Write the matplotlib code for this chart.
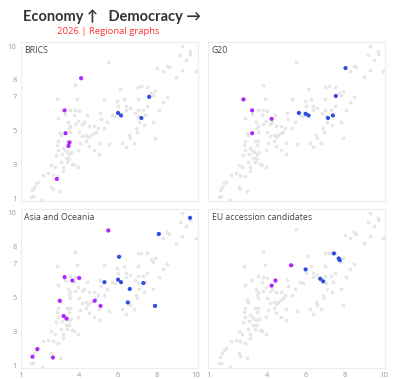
import matplotlib
matplotlib.use("Agg")
import matplotlib.pyplot as plt
import numpy as np

# Background: all countries (democracy score, economy score)
all_x = [9.3, 9.7, 9.7, 9.2, 9.5, 10.0, 9.3, 9.0, 8.0, 8.3, 8.5, 8.6, 5.5, 3.8, 2.85, 3.9,
         6.1, 7.0, 7.2, 7.5, 7.7, 7.9, 7.8, 8.5, 8.3, 8.1, 7.5, 7.4, 7.8, 7.9, 7.0, 7.0,
         7.3, 6.85, 7.05, 7.1, 7.35, 6.9, 6.95, 6.55, 6.6, 6.8, 6.4, 6.2, 6.3, 5.95, 6.0,
         6.4, 6.6, 6.4, 5.3, 5.7, 5.85, 5.05, 5.1, 5.45, 5.3, 5.55, 5.0, 5.0, 4.75, 4.5,
         4.35, 4.35, 4.5, 4.75, 4.85, 4.95, 4.75, 4.6, 4.4, 4.25, 4.15, 3.95, 3.75, 4.0,
         3.8, 3.55, 3.25, 3.55, 3.8, 3.45, 3.5, 3.55, 4.0, 4.15, 4.45, 4.05, 3.95, 3.6,
         3.5, 3.35, 3.25, 3.15, 3.55, 3.4, 3.5, 3.05, 2.9, 3.0, 2.85, 2.9, 3.1, 3.3, 3.45,
         3.5, 3.4, 3.65, 3.75, 3.95, 3.05, 3.15, 3.15, 2.75, 2.8, 2.9, 2.55, 2.4, 2.15,
         2.65, 2.9, 2.55, 2.65, 3.0, 1.9, 1.8, 1.7, 1.6, 1.65, 1.55, 2.1]
all_y = [10.0, 9.7, 9.55, 9.45, 9.2, 8.5, 8.6, 8.2, 8.7, 8.5, 8.85, 8.75, 9.05, 7.7, 6.85, 6.9,
         7.45, 7.6, 7.65, 7.6, 7.25, 7.35, 7.1, 7.0, 6.7, 6.2, 6.45, 5.9, 5.5, 4.55, 6.85, 6.25,
         6.25, 6.05, 5.85, 5.5, 5.35, 5.15, 4.95, 4.75, 4.55, 4.3, 4.05, 4.3, 6.85, 6.75, 6.45,
         6.45, 6.35, 6.2, 6.9, 5.9, 5.85, 6.05, 5.7, 5.5, 5.15, 4.2, 4.3, 3.65, 3.85, 4.1,
         4.4, 4.75, 5.3, 5.3, 4.95, 5.15, 4.85, 4.75, 5.9, 5.5, 5.4, 5.6, 5.9, 6.15,
         6.2, 6.25, 6.0, 5.3, 5.4, 5.5, 5.15, 4.95, 4.95, 4.7, 4.6, 4.25, 3.85, 3.75,
         3.65, 3.75, 3.85, 3.95, 4.4, 4.4, 4.15, 4.75, 4.4, 4.85, 4.15, 3.85, 3.6, 3.4, 3.4,
         3.35, 3.15, 3.05, 3.0, 2.85, 3.15, 2.85, 2.6, 2.85, 3.55, 5.75, 3.0, 2.5, 2.4,
         2.4, 2.3, 1.7, 1.55, 1.45, 2.0, 1.9, 1.7, 1.5, 1.15, 1.1, 0.9]

regions = ["BRICS", "G20", "Asia and Oceania", "EU accession candidates"]

# Highlighted members; group "a" = purple, "b" = blue
brics_x = [4.1, 3.25, 3.3, 3.5, 3.45, 2.85, 6.0, 6.15, 7.2, 7.6]
brics_y = [8.1, 6.2, 4.85, 4.3, 4.1, 2.15, 6.05, 5.9, 5.75, 7.0]
brics_g = ["a", "a", "a", "a", "a", "a", "b", "b", "b", "b"]

g20_x = [2.8, 3.25, 4.25, 3.25, 8.05, 7.55, 5.65, 6.0, 6.15, 7.15, 7.4]
g20_y = [6.85, 6.2, 5.7, 4.85, 8.7, 7.05, 6.05, 6.0, 5.9, 5.75, 5.9]
g20_g = ["a", "a", "a", "a", "b", "b", "b", "b", "b", "b", "b"]

asia_x = [5.5, 3.25, 3.65, 4.0, 3.0, 4.8, 5.1, 3.2, 3.35, 1.85, 1.6, 2.65,
          9.7, 8.1, 6.05, 5.3, 6.0, 6.15, 6.6, 7.3, 6.5, 7.9]
asia_y = [8.95, 6.2, 6.0, 6.15, 4.8, 4.8, 4.5, 3.9, 3.75, 1.95, 1.5, 1.45,
          9.7, 8.75, 7.4, 5.9, 6.05, 5.9, 5.5, 5.85, 4.7, 4.5]
asia_g = ["a"] * 12 + ["b"] * 10

eu_x = [5.25, 4.45, 4.25, 7.45, 7.7, 7.75, 6.0, 6.75, 6.9]
eu_y = [6.9, 6.0, 5.7, 7.6, 7.3, 7.2, 6.65, 6.1, 5.95]
eu_g = ["a", "a", "a", "b", "b", "b", "b", "b", "b"]

y_ticks = [1, 3, 5, 7, 8, 10]
x_ticks = [1, 4, 6, 8, 10]

groups = [(brics_x, brics_y, brics_g), (g20_x, g20_y, g20_g),
          (asia_x, asia_y, asia_g), (eu_x, eu_y, eu_g)]
colors = {"a": "#b026ff", "b": "#2f4de0"}

plt.rcParams["font.family"] = ["Open Sans", "DejaVu Sans"]
fig = plt.figure(figsize=(4.0, 3.79), dpi=100)

W, H = 0.4425, 0.42
pos = [(0.052, 0.4697), (0.521, 0.4697), (0.052, 0.0298), (0.521, 0.0298)]

for i, (name, (gx, gy, gg)) in enumerate(zip(regions, groups)):
    ax = fig.add_axes([pos[i][0], pos[i][1], W, H])
    ax.set_xlim(1.0, 10.1)
    ax.set_ylim(0.85, 10.25)
    ax.scatter(all_x, all_y, s=7, color="#e6e6e6", linewidths=0, zorder=1)
    cols = [colors[g] for g in gg]
    ax.scatter(gx, gy, s=9, color=cols, linewidths=0, zorder=2)
    for sp in ax.spines.values():
        sp.set_color("#ececec")
        sp.set_linewidth(0.8)
    ax.tick_params(length=0, labelsize=5.5, labelcolor="#9a9a9a", pad=3)
    ax.set_yticks(y_ticks)
    ax.set_xticks(x_ticks)
    if i % 2 == 1:
        ax.set_yticklabels([])
    else:
        ax.set_yticklabels([str(t) for t in y_ticks])
    if i < 2:
        ax.set_xticklabels([])
    else:
        ax.set_xticklabels([str(t) for t in x_ticks])
    ax.text(0.02, 0.975, name, transform=ax.transAxes, ha="left", va="top",
            fontsize=6.3, color="#444444")

fig.text(0.28, 0.955, "Economy \u2191   Democracy \u2192", ha="center", va="center",
         fontsize=10.5, fontweight="bold", color="#333333",
         family=["Lato", "DejaVu Sans"])
fig.text(0.27, 0.918, "2026 | Regional graphs", ha="center", va="center",
         fontsize=6.8, color="#ff3333")

fig.savefig("out.png", dpi=100)
